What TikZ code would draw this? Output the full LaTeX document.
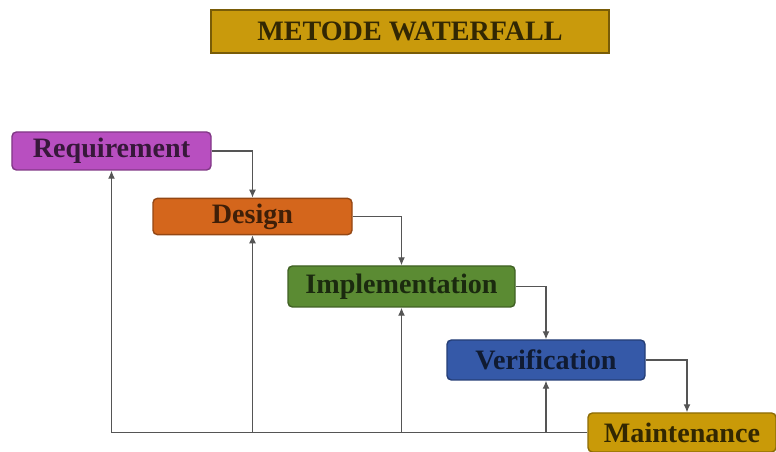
\documentclass[tikz,border=0pt]{standalone}
\usepackage{fontspec}
\setmainfont{Liberation Serif}
\usepackage{tikz}
\usetikzlibrary{arrows.meta,positioning,calc}
\definecolor{titlecol}{HTML}{C99A0C}
\definecolor{reqcol}{HTML}{B84FC0}
\definecolor{descol}{HTML}{D4661C}
\definecolor{impcol}{HTML}{5B8B33}
\definecolor{vercol}{HTML}{3559A8}
\definecolor{maicol}{HTML}{C99A08}
\definecolor{linec}{HTML}{555555}

\begin{document}
\begin{tikzpicture}[font=\fontsize{16}{19}\selectfont\bfseries,
  n/.style={rounded corners=2.5pt,inner sep=3pt,align=center,line width=0.8pt},
  ar/.style={-{Latex[length=1.6mm,width=1.4mm]},line width=0.7pt,linec},
]
\useasboundingbox (0,0) rectangle (15.52,-9.04);
\node[draw=titlecol!60!black,fill=titlecol,line width=0.8pt,minimum width=7.96cm,
      minimum height=0.86cm,text=titlecol!25!black] (title) at (8.2,-0.63) {METODE WATERFALL};
\node[n,draw=reqcol!70!black,fill=reqcol,text=reqcol!30!black,minimum width=3.98cm,
      minimum height=0.76cm] (req) at (2.23,-3.02) {Requirement};
\node[n,draw=descol!70!black,fill=descol,text=descol!30!black,minimum width=3.98cm,
      minimum height=0.70cm] (des) at (5.05,-4.33) {Design};
\node[n,draw=impcol!70!black,fill=impcol,text=impcol!30!black,minimum width=4.54cm,
      minimum height=0.82cm] (imp) at (8.03,-5.73) {Implementation};
\node[n,draw=vercol!70!black,fill=vercol,text=vercol!30!black,minimum width=3.96cm,
      minimum height=0.80cm] (ver) at (10.92,-7.20) {Verification};
\node[n,draw=maicol!70!black,fill=maicol,text=maicol!25!black,minimum width=3.76cm,
      minimum height=0.78cm] (mai) at (13.64,-8.65) {Maintenance};
% forward flow
\draw[ar] (req.east) -| (des.north);
\draw[ar] (des.east) -| (imp.north);
\draw[ar] (imp.east) -| (ver.north);
\draw[ar] (ver.east) -| ($(mai.north)+(0.1,0)$);
% feedback
\draw[ar] (mai.west) -| (req.south);
\draw[ar] (des.south |- mai.west) -- (des.south);
\draw[ar] (imp.south |- mai.west) -- (imp.south);
\draw[ar] (ver.south |- mai.west) -- (ver.south);
\end{tikzpicture}
\end{document}
